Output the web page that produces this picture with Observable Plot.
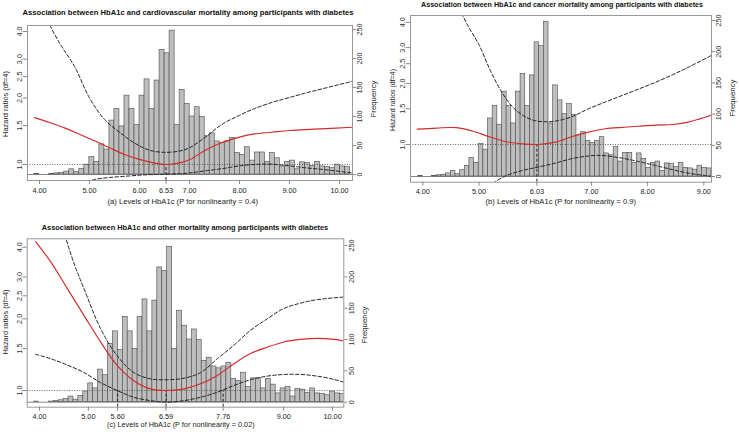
<!DOCTYPE html>
<html><head><meta charset="utf-8">
<script src="https://cdn.jsdelivr.net/npm/d3@7"></script>
<script src="https://cdn.jsdelivr.net/npm/@observablehq/plot@0.6"></script>
<style>
body{margin:0;background:#fff;}
#fig{position:relative;width:739px;height:434px;overflow:hidden;background:#fff;font-family:"Liberation Sans",Arial,Helvetica,sans-serif;color:#111;}
#fig svg{position:absolute;left:0;top:0;}
.t{position:absolute;white-space:nowrap;line-height:1;color:#222;}
.title{font-weight:bold;color:#111;transform:translate(-50%,-50%);}
.xl{transform:translate(-50%,-50%);}
.yl{transform:translate(-50%,-50%) rotate(-90deg);}
</style></head><body><div id="fig"></div><script>
// ---- shared histogram (frequency of HbA1c) ----
const freqCounts = [1,0,0, 1,2,3,5,9,4,10,17,30,22, 52,43,93,113,83,136,113,85,136,164,
  113,162,215,209,248,85,146,122,100,116, 99,66,71,57,54,57,63,37,34,47,
  24,38,38,22,37,28,14,22,24,9, 21,20,15,22,14,13,11,17,14,13];
const freqTicks = [0,50,100,150,200,250];
const hrTicks = [1.0,1.5,2.0,2.5,3.0,4.0];

// ---- panel (a): cardiovascular ----
const xTicksA = [4,5,6,6.53,7,8,9,10];
const refA = [6.53];
const binStartA = 3.894, binWidthA = 0.1003;
const hbFitA = [3.9,4.2,4.5,4.8,5.1,5.4,5.7,6.0,6.3,6.53,6.8,7.0,7.3,7.6,8.0,8.3,8.65,9.0,9.5,10.26];
const fitA   = [1.63,1.55,1.465,1.37,1.28,1.19,1.11,1.055,1.015,1.0,1.017,1.05,1.155,1.245,1.33,1.375,1.40,1.425,1.445,1.475];
const hbUpA  = [4.1,4.4,4.7,5.0,5.3,5.6,5.9,6.2,6.5,6.8,7.0,7.3,7.65,8.0,8.3,8.65,9.0,9.3,9.65,10.26];
const upA    = [4.75,3.55,2.78,2.0,1.60,1.40,1.25,1.16,1.135,1.15,1.19,1.32,1.52,1.67,1.79,1.91,2.01,2.10,2.20,2.38];
const hbLoA  = [4.95,5.1,5.4,5.8,6.1,6.4,6.8,7.0,7.3,7.65,8.0,8.3,8.65,9.0,9.3,9.65,10.26];
const loA    = [0.835,0.855,0.873,0.887,0.897,0.902,0.908,0.915,0.935,0.957,0.985,1.0,1.003,0.985,0.967,0.95,0.915];

// ---- panel (b): cancer ----
const xTicksB = [4,5,6.03,7,8,9];
const refB = [6.03];
const binStartB = 3.9186, binWidthB = 0.0828;
const hbFitB = [3.9,4.25,4.6,4.88,5.17,5.47,5.77,6.04,6.36,6.66,6.95,7.25,7.55,7.84,8.14,8.44,8.7,8.9,9.14];
const fitB   = [1.19,1.205,1.21,1.165,1.095,1.035,1.008,1.0,1.027,1.095,1.15,1.195,1.215,1.23,1.245,1.255,1.285,1.33,1.40];
const hbUpB  = [4.65,4.8,5.0,5.2,5.4,5.6,5.8,6.0,6.2,6.4,6.65,6.95,7.25,7.55,7.85,8.15,8.45,8.75,9.14];
const upB    = [4.7,3.85,3.1,2.32,1.82,1.53,1.38,1.31,1.295,1.31,1.37,1.50,1.62,1.745,1.88,2.03,2.21,2.42,2.75];
const hbLoB  = [5.25,5.47,5.77,6.06,6.36,6.66,6.95,7.1,7.25,7.55,7.84,8.14,8.44,8.73,9.03,9.14];
const loB    = [0.645,0.70,0.744,0.775,0.81,0.853,0.878,0.884,0.88,0.856,0.824,0.788,0.752,0.722,0.703,0.697];

// ---- panel (c): other ----
const xTicksC = [4,5,5.6,6.59,7.76,9,10];
const refC = [5.60,6.59,7.76];
const binStartC = 3.887, binWidthC = 0.101;
const hbFitC = [3.92,4.23,4.57,4.91,5.25,5.59,5.93,6.27,6.59,6.96,7.30,7.64,7.98,8.32,8.66,9.0,9.35,9.69,10.03,10.23];
const fitC   = [4.22,3.47,2.68,2.07,1.60,1.275,1.10,1.016,1.0,1.016,1.067,1.157,1.296,1.43,1.52,1.60,1.64,1.655,1.64,1.615];
const hbUpC  = [4.45,4.7,4.91,5.25,5.59,5.93,6.27,6.61,6.96,7.3,7.64,7.98,8.32,8.66,9.0,9.35,9.69,10.23];
const upC    = [5.0,3.45,2.68,1.82,1.40,1.19,1.12,1.11,1.127,1.19,1.36,1.55,1.79,2.0,2.21,2.33,2.41,2.47];
const hbLoC  = [3.92,4.23,4.57,4.91,5.25,5.59,5.93,6.27,6.61,6.96,7.3,7.64,7.98,8.32,8.66,9.0,9.35,9.69,10.03,10.23];
const loC    = [1.42,1.36,1.28,1.19,1.08,1.0,0.937,0.907,0.893,0.907,0.937,0.984,1.05,1.11,1.149,1.168,1.168,1.149,1.113,1.084];

const W = 739, H = 434;
const FONT = '"Liberation Sans", Arial, Helvetica, sans-serif';
const fig = document.getElementById("fig");

// font size that makes a text span a given pixel width
const ctx = document.createElement("canvas").getContext("2d");
function fitSize(text, width, bold) {
  ctx.font = (bold ? "bold " : "") + "20px " + FONT;
  return 20 * width / ctx.measureText(text).width;
}
const tickSize = Math.min(8, fitSize("10.00", 18.3, false));

const panels = [
  {box:[27,352,25,180], xDomain:[3.76,10.26], hDomain:[0.846,4.26], fDomain:[-10.3,256.9],
   binStart:binStartA, binWidth:binWidthA, xTicks:xTicksA, refs:refA,
   fit:[hbFitA,fitA], up:[hbUpA,upA], lo:[hbLoA,loA]},
  {box:[410,711,15,181.7], xDomain:[3.781,9.137], hDomain:[0.652,4.32], fDomain:[-9.1,258],
   binStart:binStartB, binWidth:binWidthB, xTicks:xTicksB, refs:refB,
   fit:[hbFitB,fitB], up:[hbUpB,upB], lo:[hbLoB,loB]},
  {box:[26.7,343.3,238.3,406.7], xDomain:[3.748,10.23], hDomain:[0.851,4.34], fDomain:[-8,260.7],
   binStart:binStartC, binWidth:binWidthC, xTicks:xTicksC, refs:refC,
   fit:[hbFitC,fitC], up:[hbUpC,upC], lo:[hbLoC,loC]}
];

const pts = ([xs, ys]) => xs.map((x, i) => ({x, y: ys[i]}));

function frameOpts(p) {
  return {
    width: W, height: H,
    marginLeft: p.box[0], marginRight: W - p.box[1],
    marginTop: p.box[2], marginBottom: H - p.box[3],
    style: {background: "transparent", overflow: "visible", fontFamily: FONT, fontSize: tickSize + "px", color: "#222"}
  };
}

for (const p of panels) {
  const bins = freqCounts.map((f, i) => ({x1: p.binStart + i * p.binWidth, x2: p.binStart + (i + 1) * p.binWidth, y1: 0, y2: f}))
    .filter(d => d.y2 > 0);
  const hist = Plot.plot({
    ...frameOpts(p),
    x: {domain: p.xDomain, axis: null},
    y: {domain: p.fDomain, axis: null},
    marks: [
      Plot.rectY(bins, {x1: "x1", x2: "x2", y1: "y1", y2: "y2", fill: "#bebebe", stroke: "#4a4a4a", strokeWidth: 0.6, clip: true}),
      Plot.ruleY([0], {stroke: "#666", strokeWidth: 0.8}),
      Plot.axisY(freqTicks, {anchor: "right", tickSize: 3, tickPadding: 1.5, tickRotate: -90, lineAnchor: "top",
        stroke: "#888", fill: "#333", label: null})
    ]
  });
  fig.appendChild(hist);

  const curves = Plot.plot({
    ...frameOpts(p),
    x: {domain: p.xDomain, axis: null},
    y: {type: "log", domain: p.hDomain, axis: null},
    marks: [
      Plot.ruleY([1], {stroke: "#444", strokeWidth: 0.8, strokeDasharray: "1,1.5"}),
      Plot.ruleX(p.refs, {y1: p.hDomain[0], y2: 1, stroke: "#222", strokeWidth: 1, strokeDasharray: "3,2"}),
      Plot.line(pts(p.up), {x: "x", y: "y", stroke: "#222", strokeWidth: 1, strokeDasharray: "3.5,2.2", curve: "catmull-rom", clip: true}),
      Plot.line(pts(p.lo), {x: "x", y: "y", stroke: "#222", strokeWidth: 1, strokeDasharray: "3.5,2.2", curve: "catmull-rom", clip: true}),
      Plot.line(pts(p.fit), {x: "x", y: "y", stroke: "#d42a2a", strokeWidth: 1.15, curve: "catmull-rom", clip: true}),
      Plot.frame({stroke: "#999", strokeWidth: 1}),
      Plot.axisX(p.xTicks, {anchor: "bottom", tickSize: 4, tickPadding: 3, tickFormat: d => d.toFixed(2),
        stroke: "#888", fill: "#222", label: null}),
      Plot.axisY(hrTicks, {anchor: "left", tickSize: 4, tickPadding: 1.5, tickRotate: -90, tickFormat: d => d.toFixed(1),
        stroke: "#888", fill: "#333", label: null})
    ]
  });
  fig.appendChild(curves);
}

// ---- text: titles and axis labels (class, centre x, centre y, target width, text) ----
const labels = [
  ["title", 188, 13.3, 331, "Association between HbA1c and cardiovascular mortality among participants with diabetes"],
  ["title", 562, 6, 282, "Association between HbA1c and cancer mortality among participants with diabetes"],
  ["title", 185, 227.7, 287, "Association between HbA1c and other mortality among participants with diabetes"],
  ["xl", 182.8, 201.7, 151, "(a) Levels of HbA1c (P for nonlinearity = 0.4)"],
  ["xl", 560.8, 201.7, 151, "(b) Levels of HbA1c (P for nonlinearity = 0.9)"],
  ["xl", 180.8, 425, 148, "(c) Levels of HbA1c (P for nonlinearity = 0.02)"],
  ["yl", 5.5, 104, 66, "Hazard ratios (df=4)"],
  ["yl", 391.7, 100, 62, "Hazard ratios (df=4)"],
  ["yl", 6, 322, 65, "Hazard ratios (df=4)"],
  ["yl", 373.5, 99, 37, "Frequency"],
  ["yl", 733, 98, 37, "Frequency"],
  ["yl", 365, 325, 37, "Frequency"]
];
for (const [cls, x, y, w, txt] of labels) {
  const d = document.createElement("div");
  d.className = "t " + cls;
  d.style.left = x + "px";
  d.style.top = y + "px";
  d.style.fontSize = Math.min(9, fitSize(txt, w, cls === "title")).toFixed(2) + "px";
  d.textContent = txt;
  fig.appendChild(d);
}
</script></body></html>
